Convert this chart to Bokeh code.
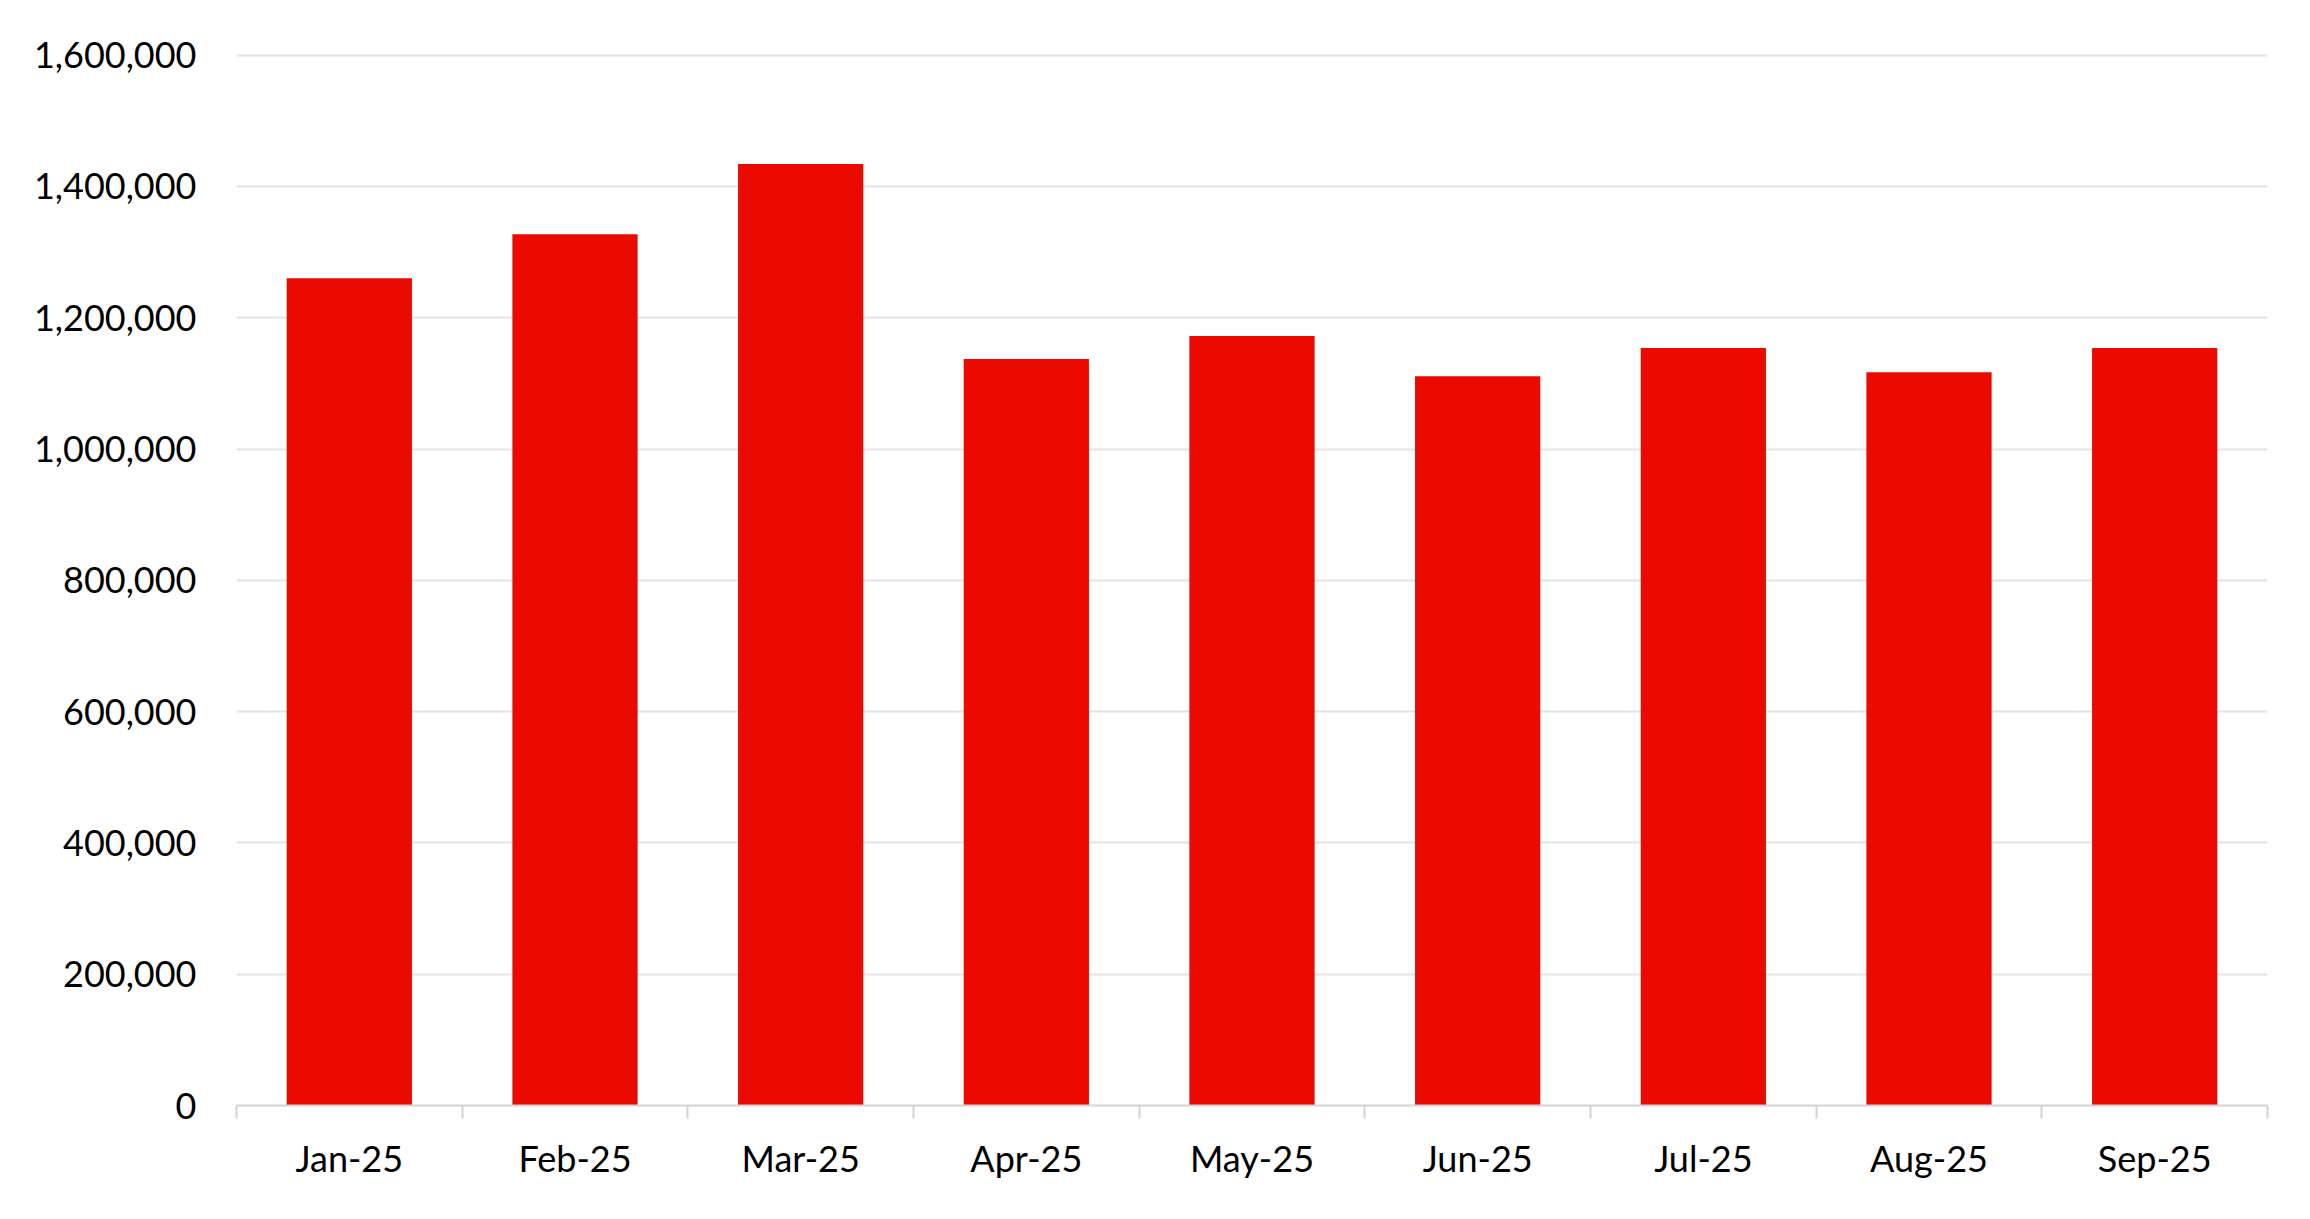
from bokeh.plotting import figure
from bokeh.models import ColumnDataSource, FixedTicker, NumeralTickFormatter, Range1d
from bokeh.embed import file_html
from bokeh.resources import INLINE

months = ["Jan-25", "Feb-25", "Mar-25", "Apr-25", "May-25", "Jun-25", "Jul-25", "Aug-25", "Sep-25"]
values = [1260000, 1327000, 1434000, 1137000, 1172000, 1111000, 1154000, 1117000, 1154000]
y_ticks = [0, 200000, 400000, 600000, 800000, 1000000, 1200000, 1400000, 1600000]

centers = [i + 0.5 for i in range(len(months))]
bounds = list(range(len(months) + 1))

src = ColumnDataSource(dict(x=centers, top=values, month=months))

p = figure(width=2294, height=1203, output_backend="svg", toolbar_location=None,
           x_range=Range1d(0, len(months)), y_range=Range1d(0, 1604000),
           min_border_left=236, min_border_right=27, min_border_top=52, min_border_bottom=98)
p.outline_line_color = None
p.background_fill_color = "white"
p.border_fill_color = "white"

p.vbar(x="x", top="top", width=0.555, bottom=0, source=src, color="#EB0A00", line_color=None)

FONT = "Lato"
# x axis
p.xaxis.ticker = FixedTicker(ticks=centers, minor_ticks=bounds)
p.xaxis.major_label_overrides = {c: m for c, m in zip(centers, months)}
p.xaxis.major_tick_line_color = None
p.xaxis.major_tick_out = 0
p.xaxis.major_tick_in = 0
p.xaxis.minor_tick_line_color = "#d4d4d4"
p.xaxis.minor_tick_line_width = 2
p.xaxis.minor_tick_out = 13
p.xaxis.minor_tick_in = 0
p.xaxis.axis_line_color = "#d4d4d4"
p.xaxis.axis_line_width = 2
p.xaxis.major_label_standoff = 17
p.xaxis.major_label_text_font = FONT
p.xaxis.major_label_text_font_size = "36px"
p.xaxis.major_label_text_color = "black"

# y axis
p.yaxis.ticker = FixedTicker(ticks=y_ticks)
p.yaxis.formatter = NumeralTickFormatter(format="0,0")
p.yaxis.axis_line_color = None
p.yaxis.major_tick_line_color = None
p.yaxis.minor_tick_line_color = None
p.yaxis.major_tick_out = 0
p.yaxis.major_tick_in = 0
p.yaxis.major_label_standoff = 40
p.yaxis.major_label_text_font = FONT
p.yaxis.major_label_text_font_size = "36px"
p.yaxis.major_label_text_color = "black"

p.xgrid.grid_line_color = None
p.ygrid.ticker = FixedTicker(ticks=y_ticks)
p.ygrid.grid_line_color = "#e3e3e3"
p.ygrid.grid_line_width = 2

open("out.html", "w").write(file_html(p, INLINE))
